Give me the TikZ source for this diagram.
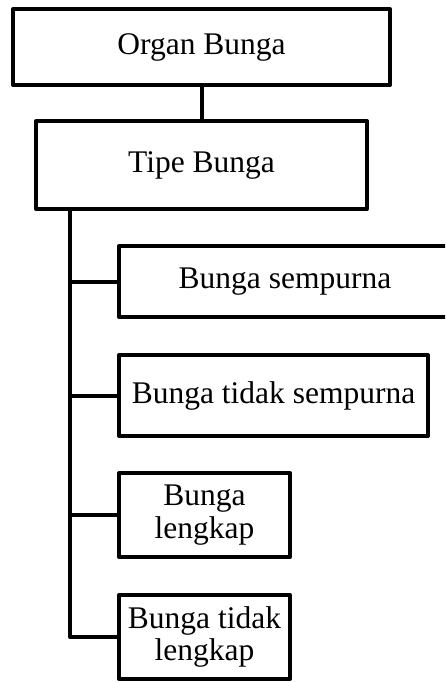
\documentclass[tikz,border=0pt]{standalone}
\usepackage{fontspec}
\setmainfont{Liberation Serif}
\begin{document}
\begin{tikzpicture}[x=1pt,y=-1pt,
  box/.style={draw=black,line width=4pt,line join=round,inner sep=0pt,align=center,
    font=\fontsize{31.5}{32.5}\selectfont},
  link/.style={draw=black,line width=4pt,line join=round}]
\clip (0,0) rectangle (445,682);
\useasboundingbox (0,0) rectangle (445,682);
\node[box,minimum width=377pt,minimum height=76pt] (b1) at (201.5,47) {Organ Bunga};
\node[box,minimum width=331pt,minimum height=88pt] (b2) at (201.5,165) {Tipe Bunga};
\node[box,minimum width=332pt,minimum height=71pt] (b3) at (285,281.5) {Bunga sempurna};
\node[box,minimum width=309pt,minimum height=81pt] (b4) at (273.5,395.5) {Bunga tidak sempurna};
\node[box,minimum width=171pt,minimum height=84pt] (b5) at (204.5,515) {Bunga\\lengkap};
\node[box,minimum width=171pt,minimum height=84pt] (b6) at (204.5,637) {Bunga tidak\\lengkap};
\coordinate (t) at (70,209);
\draw[link] (b1.south) -- (b2.north);
\draw[link] (b2.south -| t) |- (b6.west);
\draw[link] (t |- b3.west) -- (b3.west);
\draw[link] (t |- b4.west) -- (b4.west);
\draw[link] (t |- b5.west) -- (b5.west);
\end{tikzpicture}
\end{document}
